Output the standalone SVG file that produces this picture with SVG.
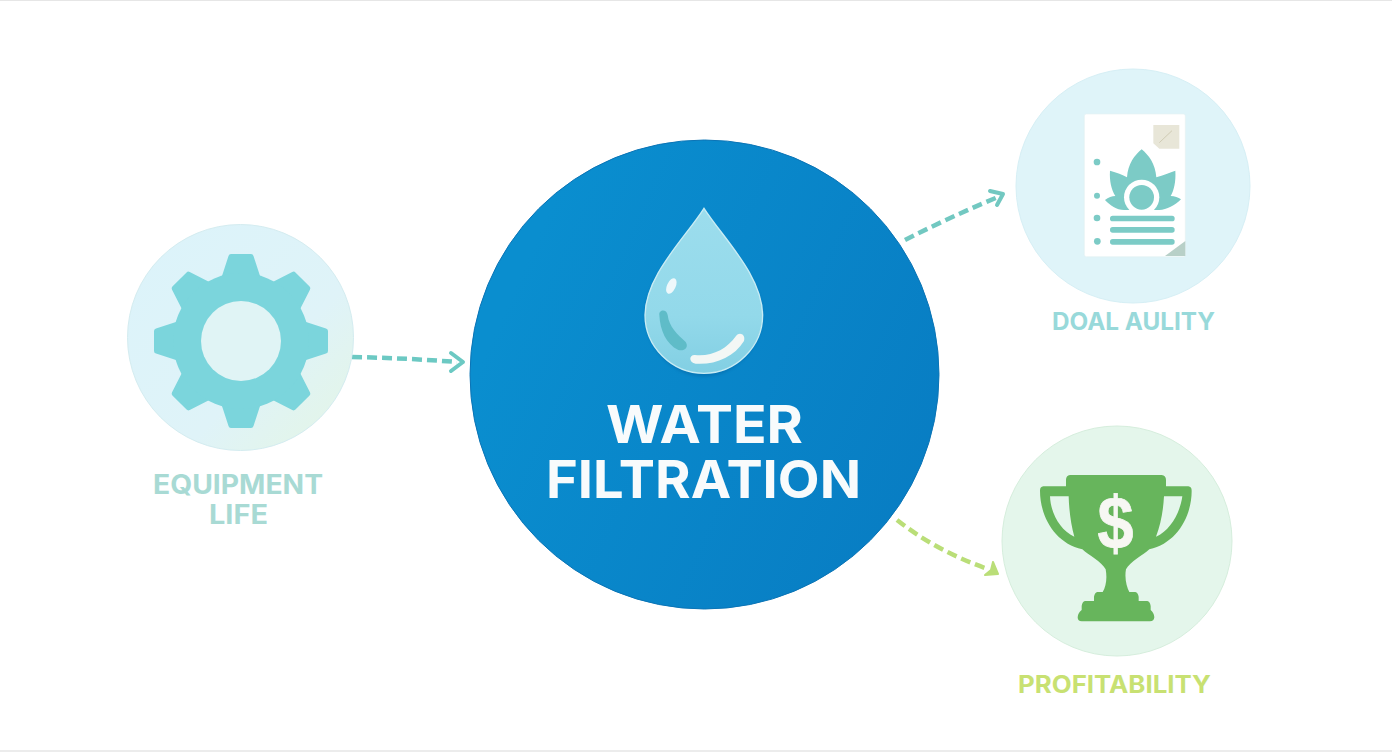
<svg xmlns="http://www.w3.org/2000/svg" width="1392" height="752" viewBox="0 0 1392 752">
<style>
.lbl{font-family:Inter,"Open Sans","Liberation Sans",sans-serif;font-weight:700;text-anchor:start}
.dash{fill:none;stroke-width:4.5;stroke-dasharray:10 5;stroke-linecap:butt}
.chev{fill:none;stroke-width:4;stroke-linecap:round;stroke-linejoin:round}
.teal{fill:#7ccbc6}
</style>
<defs>
<linearGradient id="gMain" x1="0.1" y1="0.3" x2="1" y2="0.7"><stop offset="0" stop-color="#0a8ecf"/><stop offset="1" stop-color="#087dc3"/></linearGradient>
<linearGradient id="gDrop" x1="0.5" y1="0" x2="0.5" y2="1"><stop offset="0" stop-color="#9cdded"/><stop offset="0.65" stop-color="#93d9ea"/><stop offset="1" stop-color="#82cfe3"/></linearGradient>
<linearGradient id="gGearBg" x1="0.1" y1="0.1" x2="0.9" y2="0.9"><stop offset="0" stop-color="#dcf3fa"/><stop offset="0.65" stop-color="#dff3f8"/><stop offset="1" stop-color="#e3f5e9"/></linearGradient>
<filter id="soft" x="-20%" y="-20%" width="140%" height="140%"><feGaussianBlur stdDeviation="5"/></filter>
<path id="tooth" d="M-20 -62 L-12.5 -85 Q-12 -87 -10 -87 L10 -87 Q12 -87 12.5 -85 L20 -62 Z" fill="#7bd5dc"/>
</defs>
<rect width="1392" height="752" fill="#ffffff"/>
<rect width="1392" height="1" fill="#e6e6e6"/>
<rect y="750" width="1392" height="2" fill="#ececec"/>

<g id="connectors">
<path class="dash" stroke="#6cc9c3" d="M352 357 Q405 358 457 362"/>
<path class="chev" stroke="#6cc9c3" d="M451 353 L463 362 L451 371"/>
<path class="dash" stroke="#72c8c1" d="M905 240 Q950 217 998 197"/>
<path class="chev" stroke="#72c8c1" d="M990 191 L1003 194 L997 205"/>
<path class="dash" stroke="#bade78" d="M897 520 Q935 550 985 568"/>
<path d="M985 575 L998 574 L993 562 L991 570 Z" fill="#bade78" stroke="#bade78" stroke-width="2" stroke-linejoin="round"/>
</g>

<g id="node-water-filtration">
<circle cx="704.5" cy="374.5" r="234.5" fill="url(#gMain)" stroke="#0a74b6" stroke-width="1"/>
<g transform="translate(530 200) scale(.33333)">
<path d="M522 45 C465 125 345 230 345 345 C345 440 425 530 522 530 C618 530 698 440 698 345 C698 230 580 125 522 45Z" fill="#04508c" opacity=".3" filter="url(#soft)"/>
<path d="M522 25 C465 115 347 225 345 345 C345 440 425 520 522 520 C618 520 698 440 698 345 C696 225 580 115 522 25Z" fill="url(#gDrop)" stroke="#c8ecf4" stroke-width="4"/>
<ellipse cx="424" cy="258" rx="13" ry="25" transform="rotate(25 424 258)" fill="#eef8fb"/>
<path d="M388 345 C386 328 410 326 413 345 C417 380 442 403 467 426 C478 442 462 455 445 450 C408 432 390 390 388 345Z" fill="#5fbcc8"/>
<path d="M495 465 C545 470 590 448 618 408 C628 394 648 403 642 423 C612 472 555 495 497 491 C476 488 476 464 495 465Z" fill="#f3f7f5"/>
</g>
<text class="lbl" x="606" y="443" font-size="52" font-weight="800" fill="#f8fbfc" textLength="197" lengthAdjust="spacingAndGlyphs">WATER</text>
<text class="lbl" x="546" y="498" font-size="52" font-weight="800" fill="#f8fbfc" textLength="315" lengthAdjust="spacingAndGlyphs">FILTRATION</text>
</g>

<g id="node-equipment-life">
<circle cx="240.5" cy="337.5" r="113" fill="url(#gGearBg)" stroke="#d4ecf0" stroke-width="1"/>
<g transform="translate(241 341)">
<use href="#tooth" transform="rotate(0)"/>
<use href="#tooth" transform="rotate(45)"/>
<use href="#tooth" transform="rotate(90)"/>
<use href="#tooth" transform="rotate(135)"/>
<use href="#tooth" transform="rotate(180)"/>
<use href="#tooth" transform="rotate(225)"/>
<use href="#tooth" transform="rotate(270)"/>
<use href="#tooth" transform="rotate(315)"/>
<circle r="68" fill="#7bd5dc"/>
<circle r="40" fill="#e0f4f5"/>
</g>
<text class="lbl" x="153" y="494" font-size="27" fill="#a8dad4" textLength="170" lengthAdjust="spacingAndGlyphs">EQUIPMENT</text>
<text class="lbl" x="209" y="524" font-size="27" fill="#a8dad4" textLength="59" lengthAdjust="spacingAndGlyphs">LIFE</text>
</g>

<g id="node-quality">
<circle cx="1133" cy="186" r="117" fill="#dff4f9" stroke="#d6eff5" stroke-width="1"/>
<g transform="translate(1000 60) scale(.33333)">
<rect x="253" y="162" width="303" height="428" rx="6" fill="#ffffff" stroke="#e6f1f3" stroke-width="2"/>
<path d="M460 195 H538 V266 H478 L460 250Z" fill="#e8e6d8"/>
<path d="M478 248 L516 212" stroke="#cfcbb4" stroke-width="3" fill="none"/>
<path d="M495 588 L556 543 V588Z" fill="#b8d0c8"/>
<circle class="teal" cx="291" cy="306" r="10"/>
<circle class="teal" cx="291" cy="407" r="9"/>
<circle class="teal" cx="291" cy="474" r="10"/>
<circle class="teal" cx="292" cy="544" r="10"/>
<path class="teal" d="M425 268 C446 285 466 312 469 352 C490 345 510 338 526 332 C528 365 522 390 512 408 C524 408 535 412 543 418 C525 436 500 450 478 450 H372 C350 450 330 436 315 420 C325 412 336 408 346 408 C334 388 328 362 330 332 C350 338 368 344 381 352 C384 312 404 285 425 268Z"/>
<circle cx="425" cy="412" r="53" fill="#ffffff"/>
<rect x="365" y="450" width="120" height="10" fill="#ffffff"/>
<circle class="teal" cx="425" cy="412" r="37"/>
<rect class="teal" x="330" y="467" width="194" height="17" rx="8"/>
<rect class="teal" x="330" y="501" width="194" height="17" rx="8"/>
<rect class="teal" x="330" y="537" width="194" height="17" rx="8"/>
</g>
<text class="lbl" x="1052" y="330" font-size="24" fill="#98d9da" textLength="163" lengthAdjust="spacingAndGlyphs">DOAL AULITY</text>
</g>

<g id="node-profitability">
<circle cx="1117" cy="541" r="115" fill="#e4f6eb" stroke="#d6eedd" stroke-width="1"/>
<g transform="translate(990 420) scale(.33333)">
<path fill="#67b55c" fill-rule="evenodd" d="M240 165 H515 Q528 166 528 180 V199 H595 Q605 200 605 212 C605 290 560 370 478 388 C460 405 420 425 408 448 C403 475 410 500 418 516 H436 Q444 518 446 530 V543 H472 Q480 545 482 558 V570 Q492 578 493 592 Q492 604 480 604 H275 Q263 604 263 592 Q264 578 275 570 V558 Q277 545 285 543 H312 V530 Q314 518 322 516 H338 C348 500 352 475 347 448 C335 425 295 405 277 388 C195 370 150 290 150 212 Q150 200 160 199 H228 V180 Q228 166 240 165Z M180 229 C182 280 210 330 253 350 C243 315 237 270 236 229Z M522 229 C520 270 512 315 498 350 C540 332 570 280 577 229Z"/>
</g>
<text x="1115.5" y="548" font-family="'Liberation Sans',Arial,sans-serif" font-weight="700" font-size="74" fill="#f7f7f3" stroke="#f7f7f3" stroke-width=".8" textLength="36" lengthAdjust="spacingAndGlyphs" text-anchor="middle">$</text>
<text class="lbl" x="1018" y="693" font-size="24" fill="#c8e172" textLength="193" lengthAdjust="spacingAndGlyphs">PROFITABILITY</text>
</g>
</svg>
